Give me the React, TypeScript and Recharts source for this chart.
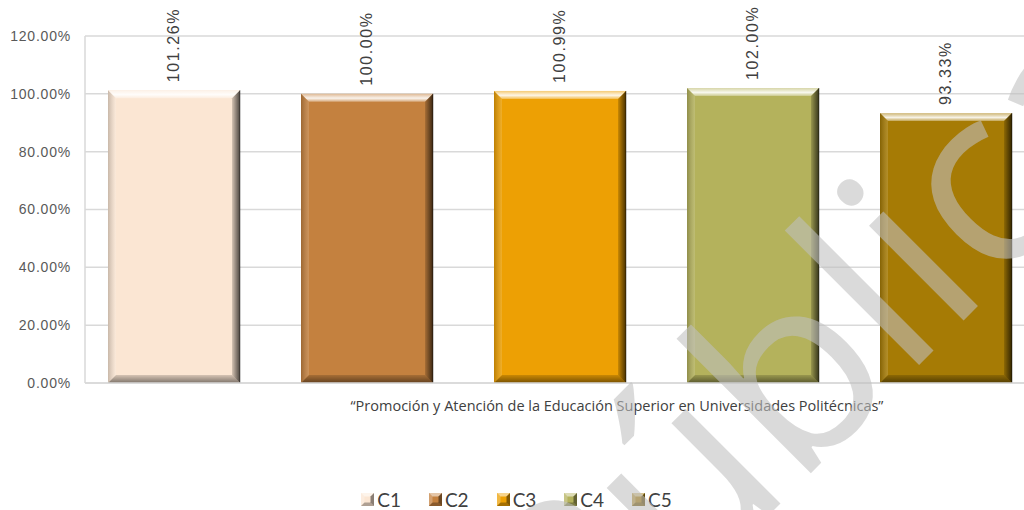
import { BarChart, Bar, XAxis, YAxis, CartesianGrid, Legend, Label, LabelList } from 'recharts';

// Series / values
const seriesKeys = ['C1', 'C2', 'C3', 'C4', 'C5'];
const seriesValues = [101.26, 100.0, 100.99, 102.0, 93.33];
const seriesColors = ['#FBE6D3', '#C4813F', '#EDA004', '#B4B25C', '#A67B05'];
const categoryName = '“Promoción  y Atención de la Educación Superior en Universidades Politécnicas”';
const yTicks = [0, 20, 40, 60, 80, 100, 120];

const row: Record<string, string | number> = { name: categoryName };
seriesKeys.forEach((k, i) => {
    row[k] = seriesValues[i];
});
const data = [row];

const pct = (v: number) => `${Number(v).toFixed(2)}%`;

// Bevelled bar, like the Office "soft bevel" look
const BevelBar = (props: any) => {
    const { x, y, width: w, height: h, fill } = props;
    if (!w || !h) return null;
    const b = 8;
    return (
        <g>
            <rect x={x} y={y} width={w} height={h} fill={fill} />
            <polygon
                points={`${x},${y} ${x + w},${y} ${x + w - b},${y + b} ${x + b},${y + b}`}
                fill="url(#bevTop)"
            />
            <polygon
                points={`${x},${y} ${x + b},${y + b} ${x + b},${y + h - b} ${x},${y + h}`}
                fill="url(#bevLeft)"
            />
            <polygon
                points={`${x + w},${y} ${x + w},${y + h} ${x + w - b},${y + h - b} ${x + w - b},${y + b}`}
                fill="url(#bevRight)"
            />
            <polygon
                points={`${x},${y + h} ${x + w},${y + h} ${x + w - b},${y + h - b} ${x + b},${y + h - b}`}
                fill="url(#bevBottom)"
            />
            <line x1={x + w} y1={y} x2={x + w} y2={y + h} stroke="#000" strokeOpacity={0.4} />
        </g>
    );
};

const renderValueLabel = (props: any) => {
    const { x, y, width, value } = props;
    const cx = x + width / 2;
    const cy = y - 8;
    return (
        <text
            x={cx}
            y={cy}
            transform={`rotate(-90 ${cx} ${cy})`}
            textAnchor="start"
            dominantBaseline="central"
            fontFamily="Liberation Sans, Arial, sans-serif"
            fontSize={16}
            letterSpacing={1.6}
            fill="#404040"
        >
            {pct(value)}
        </text>
    );
};

const LegendIcon = ({ color }: { color: string }) => (
    <svg width={13} height={13} style={{ display: 'block' }}>
        <rect x={0} y={0} width={13} height={13} fill={color} />
        <polygon points="0,0 13,0 9.5,3.5 3.5,3.5" fill="#fff" fillOpacity={0.55} />
        <polygon points="0,0 3.5,3.5 3.5,9.5 0,13" fill="#fff" fillOpacity={0.25} />
        <polygon points="13,0 13,13 9.5,9.5 9.5,3.5" fill="#000" fillOpacity={0.45} />
        <polygon points="0,13 13,13 9.5,9.5 3.5,9.5" fill="#000" fillOpacity={0.3} />
    </svg>
);

const renderLegend = () => (
    <div style={{ display: 'flex', justifyContent: 'center', alignItems: 'center', gap: 28, paddingTop: 8 }}>
        {seriesKeys.map((k, i) => (
            <div key={k} style={{ display: 'flex', alignItems: 'center' }}>
                <LegendIcon color={seriesColors[i]} />
                <span
                    style={{
                        marginLeft: 3,
                        fontFamily: 'Lato, "Open Sans", sans-serif',
                        fontSize: 19,
                        color: '#404040',
                    }}
                >
                    {k}
                </span>
            </div>
        ))}
    </div>
);

export default function App() {
    return (
        <div style={{ position: 'fixed', left: 0, top: 0, width: 1024, height: 510, overflow: 'hidden', background: '#fff' }}>
            <BarChart
                width={1040}
                height={510}
                data={data}
                margin={{ top: 36, right: 7, left: 0, bottom: 0 }}
                barCategoryGap={23}
                barGap={61}
            >
                <defs>
                    <linearGradient id="bevTop" x1="0" y1="0" x2="0" y2="1">
                        <stop offset="0%" stopColor="#fff" stopOpacity={0.45} />
                        <stop offset="55%" stopColor="#fff" stopOpacity={0.9} />
                        <stop offset="100%" stopColor="#fff" stopOpacity={0.3} />
                    </linearGradient>
                    <linearGradient id="bevLeft" x1="0" y1="0" x2="1" y2="0">
                        <stop offset="0%" stopColor="#000" stopOpacity={0.2} />
                        <stop offset="100%" stopColor="#fff" stopOpacity={0.15} />
                    </linearGradient>
                    <linearGradient id="bevRight" x1="0" y1="0" x2="1" y2="0">
                        <stop offset="0%" stopColor="#000" stopOpacity={0.15} />
                        <stop offset="100%" stopColor="#000" stopOpacity={0.7} />
                    </linearGradient>
                    <linearGradient id="bevBottom" x1="0" y1="0" x2="0" y2="1">
                        <stop offset="0%" stopColor="#000" stopOpacity={0.15} />
                        <stop offset="100%" stopColor="#000" stopOpacity={0.5} />
                    </linearGradient>
                </defs>

                <CartesianGrid vertical={false} stroke="#D9D9D9" strokeWidth={1.5} />

                <XAxis
                    dataKey="name"
                    height={97}
                    tick={false}
                    tickLine={false}
                    axisLine={{ stroke: '#D9D9D9', strokeWidth: 1.5 }}
                >
                    <Label
                        content={(p: any) => {
                            const vb = p.viewBox;
                            return (
                                <text
                                    x={vb.x + vb.width / 2 + 58}
                                    y={vb.y + 28}
                                    textAnchor="middle"
                                    fontFamily='"Open Sans", sans-serif'
                                    fontSize={14.5}
                                    fill="#404040"
                                >
                                    {categoryName}
                                </text>
                            );
                        }}
                    />
                </XAxis>

                <YAxis
                    width={85}
                    domain={[0, 120]}
                    ticks={yTicks}
                    tickFormatter={pct}
                    tickLine={false}
                    tickMargin={8}
                    axisLine={{ stroke: '#D9D9D9', strokeWidth: 1.5 }}
                    tick={{ fontSize: 14, fill: '#595959', fontFamily: 'Liberation Sans, Arial, sans-serif', letterSpacing: 0.8 }}
                />

                <Legend verticalAlign="bottom" height={30} content={renderLegend} />

                {seriesKeys.map((k, i) => (
                    <Bar key={k} dataKey={k} fill={seriesColors[i]} shape={BevelBar} isAnimationActive={false}>
                        <LabelList dataKey={k} content={renderValueLabel} />
                    </Bar>
                ))}
            </BarChart>

            {/* "Pública" watermark stamped over the chart */}
            <svg
                width={1024}
                height={510}
                style={{ position: 'absolute', left: 0, top: 0, pointerEvents: 'none' }}
            >
                <text
                    x={581}
                    y={703}
                    transform="rotate(-45 581 703)"
                    fontFamily='"Open Sans", sans-serif'
                    fontSize={250}
                    fill="#BFBFBF"
                    fillOpacity={0.58}
                >
                    Pública
                </text>
            </svg>
        </div>
    );
}
